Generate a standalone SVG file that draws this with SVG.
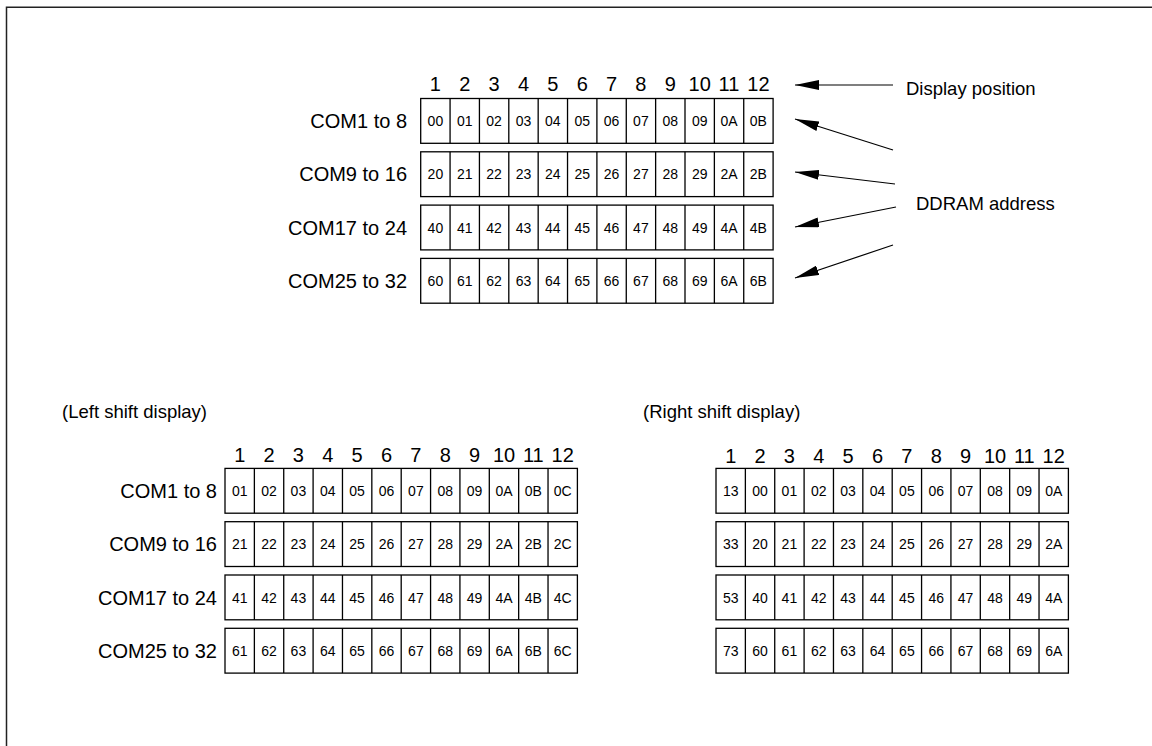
<svg xmlns="http://www.w3.org/2000/svg" xmlns:xlink="http://www.w3.org/1999/xlink" width="1152" height="746" viewBox="0 0 1152 746">
<style>
text{font-family:"Liberation Sans",Arial,sans-serif;fill:#000}
.lbl{font-size:20px;text-anchor:end}
.num{font-size:20px;text-anchor:middle}
.c{font-size:14px;text-anchor:middle}
.cap{font-size:18.5px}
.frame{fill:#fff;stroke:#000;stroke-width:1.3}
.conn{stroke:#000;stroke-width:1.2;fill:none}
</style>
<defs>
<g id="rowframe">
<rect class="frame" x="0" y="0" width="352.4" height="44.8"/>
<path class="frame" d="M29.37 0V44.8M58.73 0V44.8M88.1 0V44.8M117.47 0V44.8M146.83 0V44.8M176.2 0V44.8M205.57 0V44.8M234.93 0V44.8M264.3 0V44.8M293.67 0V44.8M323.03 0V44.8"/>
</g>
<g id="cols">
<text class="num" x="14.7" y="0">1</text><text class="num" x="44" y="0">2</text><text class="num" x="73.4" y="0">3</text><text class="num" x="102.8" y="0">4</text><text class="num" x="132.1" y="0">5</text><text class="num" x="161.5" y="0">6</text><text class="num" x="190.9" y="0">7</text><text class="num" x="220.2" y="0">8</text><text class="num" x="249.6" y="0">9</text><text class="num" x="279" y="0">10</text><text class="num" x="308.3" y="0">11</text><text class="num" x="337.7" y="0">12</text>
</g>
<marker id="ah" viewBox="0 0 24 10" refX="24" refY="5" markerWidth="24" markerHeight="10" markerUnits="userSpaceOnUse" orient="auto">
<path d="M0 0L24 5L0 10Z" fill="#000"/>
</marker>
</defs>
<rect width="1152" height="746" fill="#fff"/>
<path d="M6.5 746V7.2H1152" fill="none" stroke="#222" stroke-width="1.5"/>

<g id="top-grid">
<use xlink:href="#cols" transform="translate(420.7,91)"/>
<g id="top-r1" transform="translate(420.7,98.5)">
<use xlink:href="#rowframe"/>
<text class="lbl" x="-13.7" y="29.5">COM1 to 8</text>
<g transform="translate(0,27.4)"><text class="c" x="14.7">00</text><text class="c" x="44">01</text><text class="c" x="73.4">02</text><text class="c" x="102.8">03</text><text class="c" x="132.1">04</text><text class="c" x="161.5">05</text><text class="c" x="190.9">06</text><text class="c" x="220.2">07</text><text class="c" x="249.6">08</text><text class="c" x="279">09</text><text class="c" x="308.3">0A</text><text class="c" x="337.7">0B</text></g>
</g>
<g id="top-r2" transform="translate(420.7,151.8)">
<use xlink:href="#rowframe"/>
<text class="lbl" x="-13.7" y="29.5">COM9 to 16</text>
<g transform="translate(0,27.4)"><text class="c" x="14.7">20</text><text class="c" x="44">21</text><text class="c" x="73.4">22</text><text class="c" x="102.8">23</text><text class="c" x="132.1">24</text><text class="c" x="161.5">25</text><text class="c" x="190.9">26</text><text class="c" x="220.2">27</text><text class="c" x="249.6">28</text><text class="c" x="279">29</text><text class="c" x="308.3">2A</text><text class="c" x="337.7">2B</text></g>
</g>
<g id="top-r3" transform="translate(420.7,205.1)">
<use xlink:href="#rowframe"/>
<text class="lbl" x="-13.7" y="29.5">COM17 to 24</text>
<g transform="translate(0,27.4)"><text class="c" x="14.7">40</text><text class="c" x="44">41</text><text class="c" x="73.4">42</text><text class="c" x="102.8">43</text><text class="c" x="132.1">44</text><text class="c" x="161.5">45</text><text class="c" x="190.9">46</text><text class="c" x="220.2">47</text><text class="c" x="249.6">48</text><text class="c" x="279">49</text><text class="c" x="308.3">4A</text><text class="c" x="337.7">4B</text></g>
</g>
<g id="top-r4" transform="translate(420.7,258.4)">
<use xlink:href="#rowframe"/>
<text class="lbl" x="-13.7" y="29.5">COM25 to 32</text>
<g transform="translate(0,27.4)"><text class="c" x="14.7">60</text><text class="c" x="44">61</text><text class="c" x="73.4">62</text><text class="c" x="102.8">63</text><text class="c" x="132.1">64</text><text class="c" x="161.5">65</text><text class="c" x="190.9">66</text><text class="c" x="220.2">67</text><text class="c" x="249.6">68</text><text class="c" x="279">69</text><text class="c" x="308.3">6A</text><text class="c" x="337.7">6B</text></g>
</g>
</g>

<g id="label-display-position"><text class="cap" x="906" y="94.5">Display position</text></g>
<g id="label-ddram-address"><text class="cap" x="916" y="209.5">DDRAM address</text></g>

<g id="connectors">
<line class="conn" x1="893" y1="85" x2="795" y2="85" marker-end="url(#ah)"/>
<line class="conn" x1="893" y1="150" x2="795" y2="119" marker-end="url(#ah)"/>
<line class="conn" x1="895" y1="184" x2="795" y2="172" marker-end="url(#ah)"/>
<line class="conn" x1="896" y1="207" x2="795" y2="227" marker-end="url(#ah)"/>
<line class="conn" x1="893" y1="245" x2="795" y2="278" marker-end="url(#ah)"/>
</g>

<g id="left-shift">
<text class="cap" x="62" y="418">(Left shift display)</text>
<use xlink:href="#cols" transform="translate(225,461.5)"/>
<g id="left-r1" transform="translate(225,468.4)">
<use xlink:href="#rowframe"/>
<text class="lbl" x="-8" y="29.6">COM1 to 8</text>
<g transform="translate(0,27.5)"><text class="c" x="14.7">01</text><text class="c" x="44">02</text><text class="c" x="73.4">03</text><text class="c" x="102.8">04</text><text class="c" x="132.1">05</text><text class="c" x="161.5">06</text><text class="c" x="190.9">07</text><text class="c" x="220.2">08</text><text class="c" x="249.6">09</text><text class="c" x="279">0A</text><text class="c" x="308.3">0B</text><text class="c" x="337.7">0C</text></g>
</g>
<g id="left-r2" transform="translate(225,521.7)">
<use xlink:href="#rowframe"/>
<text class="lbl" x="-8" y="29.6">COM9 to 16</text>
<g transform="translate(0,27.5)"><text class="c" x="14.7">21</text><text class="c" x="44">22</text><text class="c" x="73.4">23</text><text class="c" x="102.8">24</text><text class="c" x="132.1">25</text><text class="c" x="161.5">26</text><text class="c" x="190.9">27</text><text class="c" x="220.2">28</text><text class="c" x="249.6">29</text><text class="c" x="279">2A</text><text class="c" x="308.3">2B</text><text class="c" x="337.7">2C</text></g>
</g>
<g id="left-r3" transform="translate(225,575)">
<use xlink:href="#rowframe"/>
<text class="lbl" x="-8" y="29.6">COM17 to 24</text>
<g transform="translate(0,27.5)"><text class="c" x="14.7">41</text><text class="c" x="44">42</text><text class="c" x="73.4">43</text><text class="c" x="102.8">44</text><text class="c" x="132.1">45</text><text class="c" x="161.5">46</text><text class="c" x="190.9">47</text><text class="c" x="220.2">48</text><text class="c" x="249.6">49</text><text class="c" x="279">4A</text><text class="c" x="308.3">4B</text><text class="c" x="337.7">4C</text></g>
</g>
<g id="left-r4" transform="translate(225,628.3)">
<use xlink:href="#rowframe"/>
<text class="lbl" x="-8" y="29.6">COM25 to 32</text>
<g transform="translate(0,27.5)"><text class="c" x="14.7">61</text><text class="c" x="44">62</text><text class="c" x="73.4">63</text><text class="c" x="102.8">64</text><text class="c" x="132.1">65</text><text class="c" x="161.5">66</text><text class="c" x="190.9">67</text><text class="c" x="220.2">68</text><text class="c" x="249.6">69</text><text class="c" x="279">6A</text><text class="c" x="308.3">6B</text><text class="c" x="337.7">6C</text></g>
</g>
</g>

<g id="right-shift">
<text class="cap" x="643" y="418">(Right shift display)</text>
<use xlink:href="#cols" transform="translate(716,463)"/>
<g id="right-r1" transform="translate(716,468.4)">
<use xlink:href="#rowframe"/>
<g transform="translate(0,27.5)"><text class="c" x="14.7">13</text><text class="c" x="44">00</text><text class="c" x="73.4">01</text><text class="c" x="102.8">02</text><text class="c" x="132.1">03</text><text class="c" x="161.5">04</text><text class="c" x="190.9">05</text><text class="c" x="220.2">06</text><text class="c" x="249.6">07</text><text class="c" x="279">08</text><text class="c" x="308.3">09</text><text class="c" x="337.7">0A</text></g>
</g>
<g id="right-r2" transform="translate(716,521.7)">
<use xlink:href="#rowframe"/>
<g transform="translate(0,27.5)"><text class="c" x="14.7">33</text><text class="c" x="44">20</text><text class="c" x="73.4">21</text><text class="c" x="102.8">22</text><text class="c" x="132.1">23</text><text class="c" x="161.5">24</text><text class="c" x="190.9">25</text><text class="c" x="220.2">26</text><text class="c" x="249.6">27</text><text class="c" x="279">28</text><text class="c" x="308.3">29</text><text class="c" x="337.7">2A</text></g>
</g>
<g id="right-r3" transform="translate(716,575)">
<use xlink:href="#rowframe"/>
<g transform="translate(0,27.5)"><text class="c" x="14.7">53</text><text class="c" x="44">40</text><text class="c" x="73.4">41</text><text class="c" x="102.8">42</text><text class="c" x="132.1">43</text><text class="c" x="161.5">44</text><text class="c" x="190.9">45</text><text class="c" x="220.2">46</text><text class="c" x="249.6">47</text><text class="c" x="279">48</text><text class="c" x="308.3">49</text><text class="c" x="337.7">4A</text></g>
</g>
<g id="right-r4" transform="translate(716,628.3)">
<use xlink:href="#rowframe"/>
<g transform="translate(0,27.5)"><text class="c" x="14.7">73</text><text class="c" x="44">60</text><text class="c" x="73.4">61</text><text class="c" x="102.8">62</text><text class="c" x="132.1">63</text><text class="c" x="161.5">64</text><text class="c" x="190.9">65</text><text class="c" x="220.2">66</text><text class="c" x="249.6">67</text><text class="c" x="279">68</text><text class="c" x="308.3">69</text><text class="c" x="337.7">6A</text></g>
</g>
</g>
</svg>
